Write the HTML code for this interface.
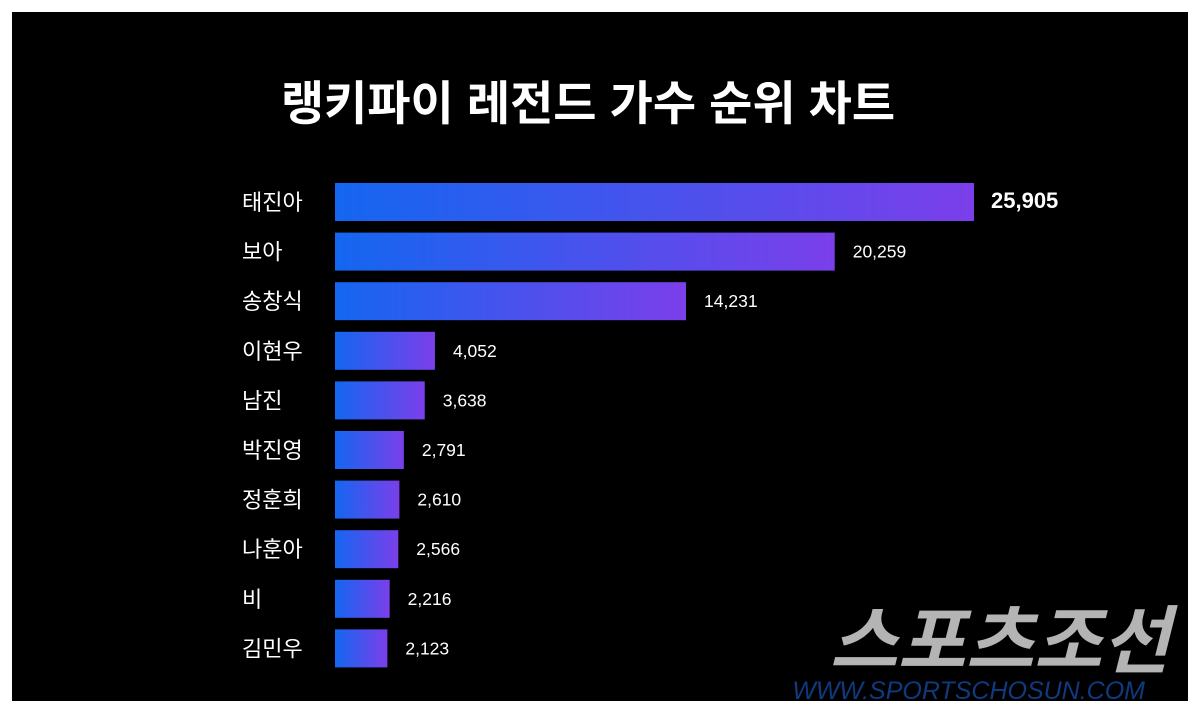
<!DOCTYPE html>
<html><head><meta charset="utf-8"><style>
html,body{margin:0;padding:0;background:#fff;}
#frame{position:absolute;left:12px;top:12px;width:1176px;height:689px;background:#000;}
svg text{font-family:"Liberation Sans","Noto Sans CJK KR",sans-serif;}
</style></head><body>
<div id="frame"></div>
<svg id="chart" width="1200" height="720" style="position:absolute;left:0;top:0">
<defs><linearGradient id="g" x1="0" x2="1" y1="0" y2="0"><stop offset="0" stop-color="#1466f0"/><stop offset="1" stop-color="#7b3fea"/></linearGradient></defs>
<text x="588" y="120" text-anchor="middle" fill="#fff" font-size="47" font-weight="bold">랭키파이 레전드 가수 순위 차트</text>
<g id="bars"></g>
<text x="1170" y="667" text-anchor="end" fill="#b4b4b4" font-size="74" font-weight="bold" font-style="italic">스포츠조선</text>
<text x="1145" y="699" text-anchor="end" fill="#0f3a80" font-size="25" font-style="italic">WWW.SPORTSCHOSUN.COM</text>
</svg>
<script>
const categories=["태진아","보아","송창식","이현우","남진","박진영","정훈희","나훈아","비","김민우"];
const values=[25905,20259,14231,4052,3638,2791,2610,2566,2216,2123];
const valueLabels=["25,905","20,259","14,231","4,052","3,638","2,791","2,610","2,566","2,216","2,123"];
const x0=335,xMax=974,y0=183,step=49.6,bh=38;
const xs=v=>x0+(xMax-x0)*v/values[0];
const g=document.getElementById('bars');const NS="http://www.w3.org/2000/svg";
categories.forEach((c,i)=>{
 const y=y0+i*step;
 const r=document.createElementNS(NS,'rect');
 
 
 r.setAttribute('x',x0);r.setAttribute('y',y);r.setAttribute('width',xs(values[i])-x0);r.setAttribute('height',bh);r.setAttribute('fill','url(#g)');g.appendChild(r);
 const t=document.createElementNS(NS,'text');
 
 
 t.setAttribute('x',242);t.setAttribute('y',y+27);t.setAttribute('fill','#fff');t.setAttribute('font-size','22');t.textContent=c;g.appendChild(t);
 const v=document.createElementNS(NS,'text');
 
 
 v.setAttribute('x',xs(values[i])+(i==0?17:18));v.setAttribute('y',y+(i==0?25:25));v.setAttribute('fill','#fff');
 v.setAttribute('font-size',i==0?'22':'17.5');if(i==0)v.setAttribute('font-weight','bold');v.textContent=valueLabels[i];g.appendChild(v);
});
</script>
</body></html>
